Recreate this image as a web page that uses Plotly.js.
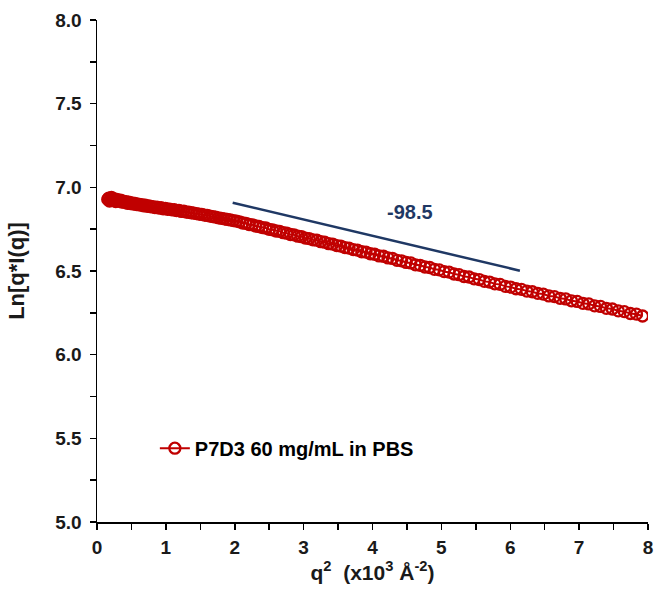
<!DOCTYPE html>
<html>
<head>
<meta charset="utf-8">
<script src="https://cdn.plot.ly/plotly-3.0.1.min.js"></script>
<style>html,body{margin:0;padding:0;background:#fff;}#chart{width:656px;height:590px;}</style>
</head>
<body>
<div id="chart"></div>
<script>
// q^2 (x10^3 Å^-2)
const q2 = [0.156,0.169,0.182,0.196,0.210,0.225,0.240,0.256,0.272,0.289,0.306,0.324,0.342,0.361,0.380,0.400,0.420,0.441,0.462,0.484,
0.506,0.529,0.552,0.576,0.600,0.625,0.650,0.676,0.702,0.729,0.756,0.784,0.812,0.841,0.870,0.900,0.930,0.961,0.992,1.024,
1.056,1.089,1.122,1.156,1.190,1.225,1.260,1.296,1.332,1.369,1.406,1.444,1.482,1.521,1.560,1.600,1.640,1.681,1.722,1.764,
1.806,1.849,1.892,1.936,1.980,2.025,2.070,2.116,2.162,2.209,2.256,2.304,2.352,2.401,2.450,2.500,2.550,2.601,2.652,2.704,
2.756,2.809,2.862,2.916,2.970,3.025,3.080,3.136,3.192,3.249,3.306,3.364,3.422,3.481,3.540,3.600,3.660,3.721,3.782,3.844,
3.906,3.969,4.032,4.096,4.160,4.225,4.290,4.356,4.422,4.489,4.556,4.624,4.692,4.761,4.830,4.900,4.970,5.041,5.112,5.184,
5.256,5.329,5.402,5.476,5.550,5.625,5.700,5.776,5.852,5.929,6.006,6.084,6.162,6.241,6.320,6.400,6.480,6.561,6.642,6.724,
6.806,6.889,6.972,7.056,7.140,7.225,7.310,7.396,7.482,7.569,7.656,7.744,7.832,7.921];
// Ln[q*I(q)]
const lnqI = [6.928,6.935,6.918,6.930,6.940,6.922,6.932,6.926,6.915,6.928,6.920,6.917,6.924,6.912,6.918,6.910,6.914,6.905,6.912,6.903,
6.907,6.900,6.904,6.897,6.899,6.894,6.897,6.890,6.893,6.886,6.889,6.883,6.885,6.879,6.882,6.876,6.878,6.872,6.874,6.869,
6.870,6.865,6.866,6.861,6.862,6.856,6.857,6.852,6.851,6.848,6.846,6.843,6.840,6.838,6.834,6.832,6.828,6.825,6.822,6.818,
6.815,6.812,6.808,6.805,6.801,6.798,6.794,6.787,6.785,6.778,6.776,6.769,6.766,6.759,6.757,6.749,6.746,6.739,6.737,6.729,
6.726,6.718,6.716,6.708,6.705,6.697,6.694,6.686,6.684,6.675,6.672,6.663,6.661,6.652,6.649,6.640,6.637,6.628,6.625,6.615,
6.613,6.603,6.600,6.590,6.588,6.578,6.575,6.564,6.561,6.551,6.548,6.537,6.534,6.524,6.521,6.510,6.507,6.496,6.493,6.482,
6.478,6.467,6.464,6.453,6.449,6.438,6.434,6.423,6.420,6.408,6.404,6.394,6.390,6.380,6.376,6.366,6.362,6.351,6.347,6.337,
6.333,6.322,6.318,6.307,6.303,6.292,6.288,6.277,6.273,6.262,6.257,6.246,6.242,6.231];
const seriesName = 'P7D3 60 mg/mL in PBS';
// slope guide line
const fitX = [1.97, 6.14];
const fitY = [6.908, 6.502];
const slopeLabel = '-98.5';
const slopeLabelPos = [4.54, 6.85];

const red = '#C00000';
const navy = '#1F3864';
const font = 'Liberation Sans, Arial, sans-serif';

const traces = [
  {x: q2, y: lnqI, type: 'scatter', mode: 'lines+markers', name: seriesName,
   line: {color: red, width: 2},
   marker: {symbol: 'circle-open', size: 11, color: red, line: {color: red, width: 2.3}}},
  {x: fitX, y: fitY, type: 'scatter', mode: 'lines', showlegend: false,
   line: {color: navy, width: 2.5}, hoverinfo: 'skip'}
];

const layout = {
  width: 656, height: 590,
  margin: {l: 97, r: 8, t: 20, b: 68},
  paper_bgcolor: '#fff', plot_bgcolor: '#fff',
  font: {family: font, color: '#000'},
  showlegend: true,
  legend: {x: 0.105, xanchor: 'left', y: 0.147, yanchor: 'middle',
    font: {family: font, size: 20, color: '#000', weight: 'bold'}, bgcolor: 'rgba(0,0,0,0)'},
  xaxis: {range: [0, 8], dtick: 1, tick0: 0, showgrid: false, zeroline: false,
    showline: true, linecolor: '#000', linewidth: 1.5, mirror: false,
    ticks: 'outside', ticklen: 6, tickwidth: 1.5, tickcolor: '#000', ticklabelstandoff: 2,
    minor: {dtick: 0.5, ticks: 'outside', ticklen: 6, tickwidth: 1.5, tickcolor: '#000', showgrid: false},
    tickfont: {family: font, size: 19, color: '#1a1a1a', weight: 'bold'},
    title: {text: 'q<sup>2</sup>  (x10<sup>3</sup> Å<sup>-2</sup>)', standoff: 6,
      font: {family: font, size: 21, color: '#1a1a1a', weight: 'bold'}}},
  yaxis: {range: [5, 8], dtick: 0.5, tick0: 5, tickformat: '.1f', showgrid: false, zeroline: false,
    showline: true, linecolor: '#000', linewidth: 1.5, mirror: false,
    ticks: 'outside', ticklen: 6, tickwidth: 1.5, tickcolor: '#000', ticklabelstandoff: 4,
    minor: {dtick: 0.25, ticks: 'outside', ticklen: 6, tickwidth: 1.5, tickcolor: '#000', showgrid: false},
    tickfont: {family: font, size: 19, color: '#1a1a1a', weight: 'bold'},
    title: {text: 'Ln[q*I(q)]', standoff: 24,
      font: {family: font, size: 22, color: '#1a1a1a', weight: 'bold'}}},
  annotations: [{x: slopeLabelPos[0], y: slopeLabelPos[1], xref: 'x', yref: 'y', text: slopeLabel,
    showarrow: false, font: {family: font, size: 20, color: navy, weight: 'bold'}}]
};

Plotly.newPlot('chart', traces, layout, {displayModeBar: false, staticPlot: true});
</script>
</body>
</html>
